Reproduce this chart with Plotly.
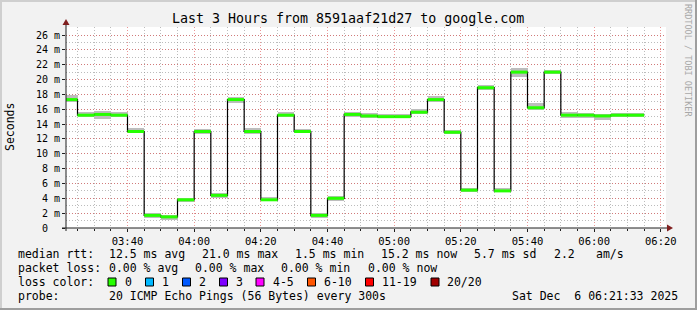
import pandas as pd
import plotly.graph_objects as go

# ---------------- data ----------------
median_ms = [17.3, 15.2, 15.3, 15.2, 13.0, 1.7, 1.5, 3.8, 13.0, 4.4,
             17.3, 13.0, 3.8, 15.2, 13.0, 1.7, 4.0, 15.3, 15.1, 15.0,
             15.0, 15.6, 17.3, 12.9, 5.1, 18.9, 5.0, 21.0, 16.2, 21.0,
             15.2, 15.2, 15.1, 15.2, 15.2]
smoke_lo = [17.0, 15.0, 14.7, 14.9, 12.8, 1.3, 1.1, 3.5, 12.7, 4.1,
            16.9, 12.7, 3.6, 14.9, 12.8, 1.4, 3.6, 15.0, 14.8, 14.8,
            14.8, 15.4, 17.0, 12.7, 4.9, 18.6, 4.8, 20.4, 15.9, 20.8,
            14.8, 14.8, 14.6, 14.9, 14.9]
smoke_hi = [17.9, 15.6, 15.7, 15.6, 13.5, 2.0, 1.8, 4.1, 13.4, 4.7,
            17.6, 13.5, 4.2, 15.6, 13.3, 2.0, 4.3, 15.6, 15.5, 15.3,
            15.3, 16.0, 17.8, 13.2, 5.4, 19.2, 5.4, 21.5, 16.8, 21.3,
            15.6, 15.5, 15.4, 15.5, 15.5]
first_end = "2025-12-06 03:25:00"
step = pd.Timedelta(seconds=300)
seg_end = pd.date_range(first_end, periods=len(median_ms), freq="300s")
seg_start = seg_end - step
x_range = ["2025-12-06 03:21:33", "2025-12-06 06:21:33"]

y_tickvals = [0, 2, 4, 6, 8, 10, 12, 14, 16, 18, 20, 22, 24, 26]
y_ticktext = ["0\u00a0\u00a0", "2 m", "4 m", "6 m", "8 m", "10 m", "12 m", "14 m",
              "16 m", "18 m", "20 m", "22 m", "24 m", "26 m"]

title_text = "Last 3 Hours from 8591aaf21d27 to google.com"
loss_labels = ["0", "1", "2", "3", "4-5", "6-10", "11-19", "20/20"]
loss_colors = ["#26ff00", "#00b8ff", "#0059ff", "#7e00ff", "#ff00ff", "#ff5500", "#ff0000", "#a10000"]

row1 = [("median rtt:", 16), ("12.5 ms avg", 107), ("21.0 ms max", 200), ("1.5 ms min", 293),
        ("15.2 ms now", 379), ("5.7 ms sd", 472), ("2.2", 552), ("am/s", 594)]
row2 = [("packet loss:", 16), ("0.00 % avg", 107), ("0.00 % max", 193), ("0.00 % min", 279),
        ("0.00 % now", 366)]
row4 = [("probe:", 16), ("20 ICMP Echo Pings (56 Bytes) every 300s", 107)]
date_text = "Sat Dec  6 06:21:33 2025"

# ---------------- layout geometry ----------------
W, H = 697, 310
L, R, T, B = 66, 666, 27, 228
MONO = "DejaVu Sans Mono"


def px(x):
    return (x - L) / (R - L)


def py(y):
    return (B - y) / (B - T)


fig = go.Figure()

# smoke band
fig.add_trace(go.Bar(
    x=seg_start + step / 2, y=[h - l for h, l in zip(smoke_hi, smoke_lo)], base=smoke_lo,
    width=step.total_seconds() * 1000, marker=dict(color="#bdbdbd", line=dict(width=0)),
    showlegend=False, hoverinfo="skip"))

# black step line
fig.add_trace(go.Scatter(
    x=list(seg_start) + [seg_end[-1]], y=median_ms + [median_ms[-1]],
    mode="lines", line=dict(color="#000000", width=1.2, shape="hv"),
    showlegend=False, hoverinfo="skip"))

# green median (loss colour)
gx, gy = [], []
for s, e, v in zip(seg_start, seg_end, median_ms):
    gx += [s, e, None]
    gy += [v, v, None]
fig.add_trace(go.Scatter(x=gx, y=gy, mode="lines",
                         line=dict(color=loss_colors[0], width=3),
                         showlegend=False, hoverinfo="skip"))

grid_minor = "rgba(143,143,143,0.6)"
grid_major = "rgba(222,79,79,0.6)"

fig.update_xaxes(
    type="date", range=x_range, dtick=20 * 60 * 1000, tick0="2025-12-06 03:40:00",
    tickformat="%H:%M", showgrid=True, gridcolor=grid_major, griddash="1px,2px", gridwidth=1,
    ticks="outside", ticklen=3, tickcolor="#1f1f1f",
    minor=dict(dtick=5 * 60 * 1000, tick0="2025-12-06 03:40:00", showgrid=True,
               gridcolor=grid_minor, griddash="1px,2px", ticks="outside", ticklen=2,
               tickcolor="#1f1f1f"),
    tickfont=dict(family=MONO, size=10.5, color="#000"), showline=False, zeroline=False,
    fixedrange=True)
fig.update_yaxes(
    range=[0, 27.08], tickvals=y_tickvals, ticktext=y_ticktext,
    showgrid=True, gridcolor=grid_major, griddash="1px,2px", gridwidth=1,
    ticks="outside", ticklen=3, tickcolor="#1f1f1f",
    minor=dict(dtick=1, showgrid=True, gridcolor=grid_minor, griddash="1px,2px"),
    tickfont=dict(family=MONO, size=10, color="#000"), showline=False, zeroline=False,
    fixedrange=True)

shapes = []
# axes with arrows
shapes.append(dict(type="line", xref="paper", yref="paper", x0=px(62), x1=px(670), y0=0, y1=0,
                   line=dict(color="#1f1f1f", width=1)))
shapes.append(dict(type="line", xref="paper", yref="paper", x0=0, x1=0, y0=py(231), y1=py(23),
                   line=dict(color="#1f1f1f", width=1)))
shapes.append(dict(type="path", xref="paper", yref="paper",
                   path=f"M {px(667)} {py(224.5)} L {px(673)} {py(228)} L {px(667)} {py(231.5)} Z",
                   fillcolor="#801f1f", line=dict(width=0)))
shapes.append(dict(type="path", xref="paper", yref="paper",
                   path=f"M {px(62.5)} {py(25)} L {px(66)} {py(19)} L {px(69.5)} {py(25)} Z",
                   fillcolor="#801f1f", line=dict(width=0)))
# frame shading
shapes.append(dict(type="rect", xref="paper", yref="paper", x0=px(0), x1=px(W), y0=py(0), y1=py(2),
                   fillcolor="#cfcfcf", line=dict(width=0)))
shapes.append(dict(type="rect", xref="paper", yref="paper", x0=px(0), x1=px(2), y0=py(0), y1=py(H),
                   fillcolor="#cfcfcf", line=dict(width=0)))
shapes.append(dict(type="rect", xref="paper", yref="paper", x0=px(W - 2), x1=px(W), y0=py(0), y1=py(H),
                   fillcolor="#9e9e9e", line=dict(width=0)))
shapes.append(dict(type="rect", xref="paper", yref="paper", x0=px(0), x1=px(W), y0=py(H - 2), y1=py(H),
                   fillcolor="#9e9e9e", line=dict(width=0)))

annotations = []


def txt(t, x, y, size=11.5, anchor="left", color="#000", angle=0):
    annotations.append(dict(text=t, x=px(x), y=py(y), xref="paper", yref="paper",
                            xanchor=anchor, yanchor="middle", showarrow=False, textangle=angle,
                            font=dict(family=MONO, size=size, color=color)))


txt(title_text, 348, 19, size=13.3, anchor="center")
txt("Seconds", 10, 127, size=11.5, anchor="center", angle=-90)
txt("RRDTOOL / TOBI OETIKER", 688, 60, size=8.5, anchor="center", color="#a8a8a8", angle=90)

for t, x in row1:
    txt(t.replace(" ", "\u00a0"), x, 254)
for t, x in row2:
    txt(t.replace(" ", "\u00a0"), x, 268)
txt("loss\u00a0color:", 16, 282)
sq_x = [108, 145.5, 182.5, 219.5, 256, 307.5, 365.5, 431]
for lab, col, sx in zip(loss_labels, loss_colors, sq_x):
    shapes.append(dict(type="rect", xref="paper", yref="paper", x0=px(sx), x1=px(sx + 8),
                       y0=py(286), y1=py(278), fillcolor=col, line=dict(color="#000", width=1)))
    txt(lab, sx + 14.5, 282)
for t, x in row4:
    txt(t.replace(" ", "\u00a0"), x, 296)
txt(date_text.replace(" ", "\u00a0"), 680, 296, anchor="right")

fig.update_layout(
    width=W, height=H, margin=dict(l=L, r=W - R, t=T, b=H - B, pad=0),
    paper_bgcolor="#f2f2f2", plot_bgcolor="#ffffff",
    barmode="overlay", bargap=0, showlegend=False,
    shapes=shapes, annotations=annotations)

fig.write_html("out.html", config={"displayModeBar": False})
